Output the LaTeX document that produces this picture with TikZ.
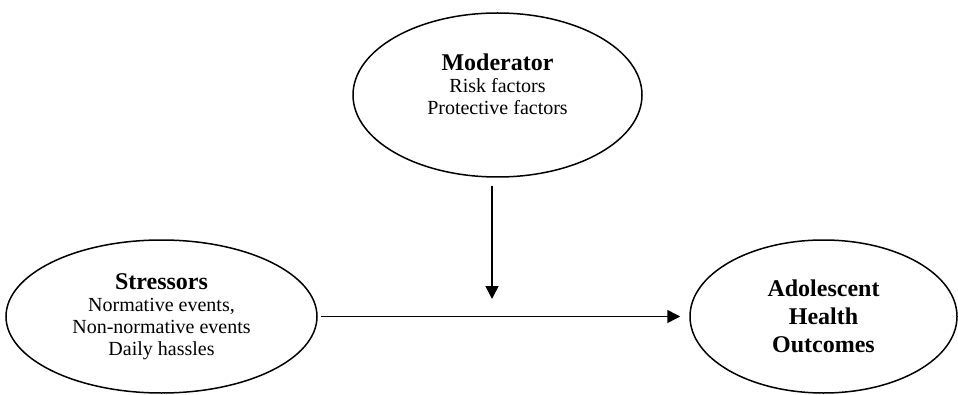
\documentclass[tikz,border=0pt]{standalone}
\usepackage{fontspec}
\setmainfont{Liberation Serif}
\usepackage{tikz}
\usetikzlibrary{arrows.meta,shapes.geometric}
\tikzset{
  factor/.style={
    ellipse,
    draw=black,
    line width=1.5pt,
    inner sep=0pt,
    align=center,
    font=\fontsize{20}{22}\selectfont
  },
  headline/.style={font=\fontsize{24}{28}\selectfont\bfseries},
  link/.style={line width=1.5pt, -{Triangle[length=13pt, width=13pt]}}
}
\newcommand{\factorhead}[1]{{\fontsize{24}{24}\selectfont\bfseries #1}}

\begin{document}
\begin{tikzpicture}[x=1pt,y=1pt]
\path[use as bounding box] (0,0) rectangle (958,394);
\fill[white] (0,0) rectangle (958,394);

\node[factor, minimum width=289pt, minimum height=164pt] (moderator) at (497.5,299)
  {\factorhead{Moderator}\\Risk factors\\Protective factors\\ \mbox{}};
\node[factor, minimum width=311pt, minimum height=153pt] (stressors) at (161.5,77.5)
  {\factorhead{Stressors}\\Normative events,\\Non-normative events\\Daily hassles};
\node[factor, headline, minimum width=267pt, minimum height=153pt] (outcomes) at (823.5,77.5)
  {Adolescent\\Health\\Outcomes};

\coordinate (hit) at (492,95);
\draw[link, shorten <=8pt] (moderator.south -| hit) -- (hit);
\draw[link, shorten <=3pt, shorten >=9pt] (stressors.east) -- (outcomes.west);
\end{tikzpicture}
\end{document}
